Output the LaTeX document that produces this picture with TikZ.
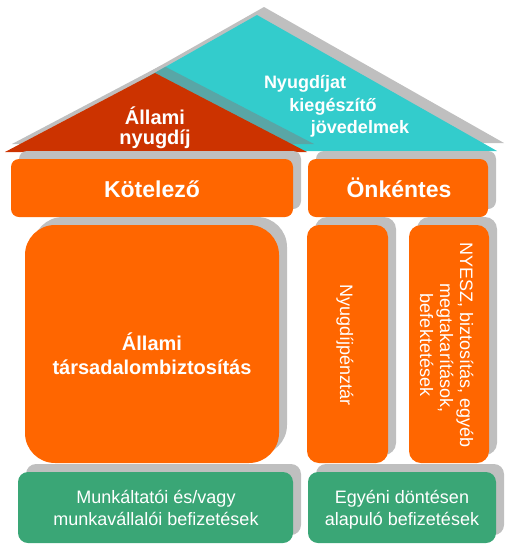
\documentclass[tikz,border=0pt]{standalone}
\usepackage{fontspec}
\setmainfont{Liberation Sans}
\usetikzlibrary{shadows}
\definecolor{orng}{HTML}{FF6600}
\definecolor{rd}{HTML}{CC3300}
\definecolor{tl}{HTML}{33CCCC}
\definecolor{grn}{HTML}{3AA676}
\definecolor{shd}{HTML}{BFBFBF}
\definecolor{tlshd}{HTML}{59A6A6}
\begin{document}
\begin{tikzpicture}[x=1pt,y=-1pt,
  pbox/.style={rectangle, inner sep=0pt, outer sep=0pt, draw=none,
    drop shadow={shadow xshift=8pt, shadow yshift=8pt, fill=shd, opacity=1}},
  obox/.style={pbox, fill=orng},
  gbox/.style={pbox, fill=grn, rounded corners=10pt, minimum height=71pt},
  lbl/.style={text=white, anchor=base, inner sep=0pt, outer sep=0pt},
  bigb/.style={font=\bfseries\fontsize{23}{27}\selectfont},
  midb/.style={font=\bfseries\fontsize{20}{24}\selectfont},
  smb/.style={font=\bfseries\fontsize{18}{22}\selectfont},
  reg/.style={font=\fontsize{18}{22}\selectfont}]
\useasboundingbox (0,0) rectangle (512,547);
% roof
\fill[shd] (24,143) -- (264,7) -- (504,143) -- cycle;
\fill[shd] (12,144) -- (162,65) -- (314,144) -- cycle;
\fill[tl] (17,151) -- (257,15) -- (497,151) -- cycle;
\begin{scope}
  \clip (17,151) -- (257,15) -- (497,151) -- cycle;
  \fill[tlshd] (12,144) -- (162,65) -- (314,144) -- cycle;
\end{scope}
\fill[rd] (5,152) -- (155,73) -- (307,152) -- cycle;
\node[lbl, midb] (ar1) at (155,124) {Állami};
\node[lbl, midb] (ar2) at (155,144) {nyugdíj};
\node[lbl, smb] (tr1) at (305,88) {Nyugdíjat};
\node[lbl, smb] (tr2) at (333,111) {kiegészítő};
\node[lbl, smb] (tr3) at (360,133) {jövedelmek};
% boxes
\node[obox, rounded corners=8pt, minimum width=282pt, minimum height=58pt] (kot) at (152,188) {};
\node[obox, rounded corners=8pt, minimum width=180pt, minimum height=58pt] (onk) at (398,188) {};
\node[obox, rounded corners=30pt, minimum width=254pt, minimum height=238pt] (all) at (152,344) {};
\node[obox, rounded corners=12pt, minimum width=81pt, minimum height=238pt] (nyp) at (347.5,344) {};
\node[obox, rounded corners=12pt, minimum width=80pt, minimum height=238pt] (nye) at (449,344) {};
\node[gbox, minimum width=275pt] (gl) at (155.5,507.5) {};
\node[gbox, minimum width=188pt] (gr) at (402,507.5) {};
% texts
\node[lbl, bigb] (kott) at (152,197) {Kötelező};
\node[lbl, bigb] (onkt) at (399,197) {Önkéntes};
\node[lbl, midb] (allt1) at (152,350) {Állami};
\node[lbl, midb] (allt2) at (152,374) {társadalombiztosítás};
\node[lbl, reg, rotate=-90] (nypt) at (340,345) {Nyugdíjpénztár};
\node[lbl, reg, rotate=-90] (nyet1) at (460,345) {NYESZ, biztosítás, egyéb};
\node[lbl, reg, rotate=-90] (nyet2) at (440,348) {megtakarítások,};
\node[lbl, reg, rotate=-90] (nyet3) at (420,345) {befektetések};
\node[lbl, reg] (glt1) at (156,503) {Munkáltatói és/vagy};
\node[lbl, reg] (glt2) at (156,525) {munkavállalói befizetések};
\node[lbl, reg] (grt1) at (402,503) {Egyéni döntésen};
\node[lbl, reg] (grt2) at (402,525) {alapuló befizetések};
\end{tikzpicture}
\end{document}
